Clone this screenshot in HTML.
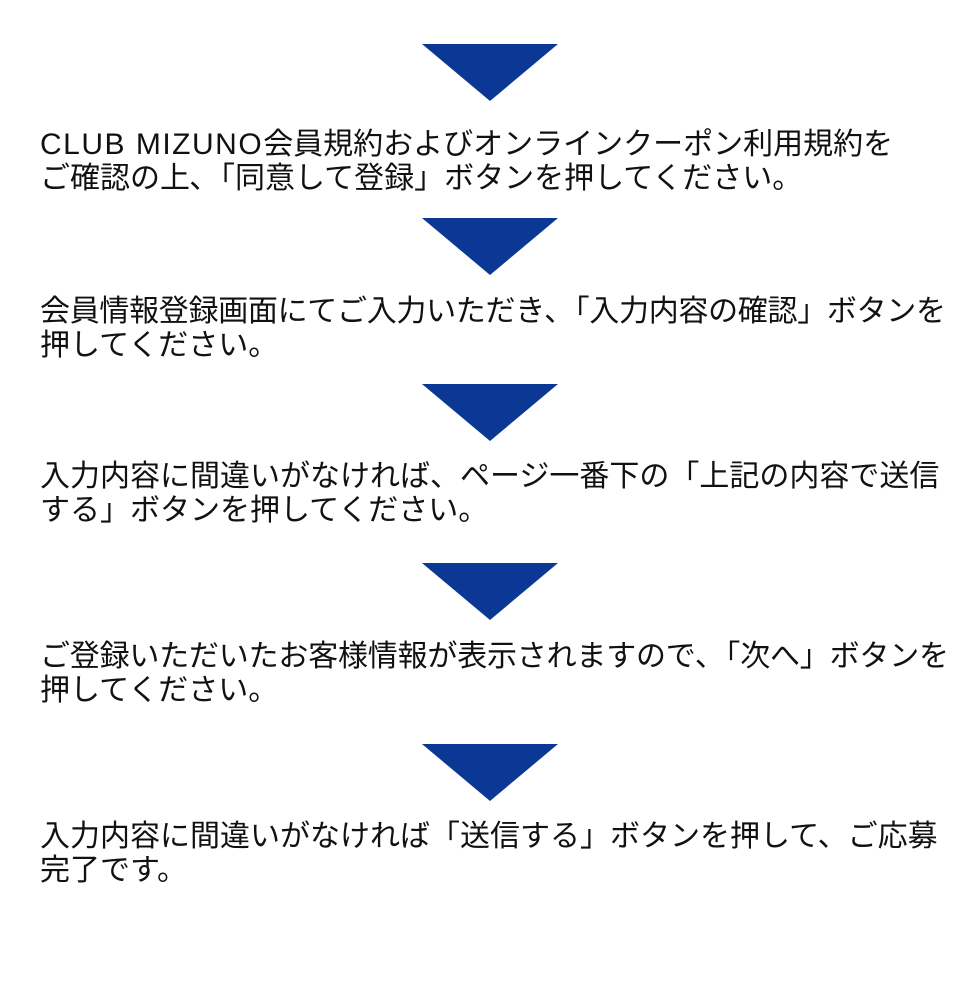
<!DOCTYPE html>
<html><head><meta charset="utf-8"><style>
body{margin:0;width:980px;height:998px;background:#fff;position:relative;overflow:hidden;font-family:"Liberation Sans","Noto Sans CJK JP",sans-serif;color:#111;}
.t{position:absolute;left:0;width:0;height:0;border-left:68px solid transparent;border-right:68px solid transparent;border-top:57px solid #0b3894;margin-left:422px;}
.x{position:absolute;left:40px;font-size:30px;line-height:34px;white-space:nowrap;}
</style></head><body>
<div class="t" style="top:44px"></div>
<div class="x" style="top:128px"><span style="letter-spacing:1.5px">CLUB MIZUNO</span>会員規約およびオンラインクーポン利用規約を</div>
<div class="x" style="top:162px">ご確認の上､「同意して登録」ボタンを押してください。</div>
<div class="t" style="top:218px"></div>
<div class="x" style="top:295px;letter-spacing:-0.3px">会員情報登録画面にてご入力いただき､「入力内容の確認」ボタンを</div>
<div class="x" style="top:329px">押してください。</div>
<div class="t" style="top:384px"></div>
<div class="x" style="top:460px">入力内容に間違いがなければ、ページ一番下の「上記の内容で送信</div>
<div class="x" style="top:494px">する」ボタンを押してください。</div>
<div class="t" style="top:563px"></div>
<div class="x" style="top:640px;letter-spacing:-0.2px">ご登録いただいたお客様情報が表示されますので､「次へ」ボタンを</div>
<div class="x" style="top:674px">押してください。</div>
<div class="t" style="top:744px"></div>
<div class="x" style="top:820px">入力内容に間違いがなければ「送信する」ボタンを押して、ご応募</div>
<div class="x" style="top:854px">完了です。</div>
</body></html>
